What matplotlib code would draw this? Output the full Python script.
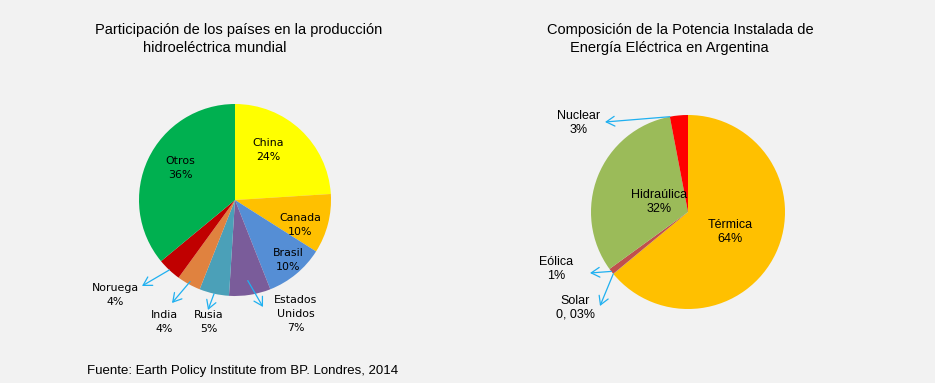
import numpy as np
import matplotlib.pyplot as plt

# -------------------- Data --------------------
paises = ["China", "Canada", "Brasil", "Estados\nUnidos", "Rusia", "India", "Noruega", "Otros"]
part_paises = [24, 10, 10, 7, 5, 4, 4, 36]
col_paises = ["#FFFF00", "#FFC000", "#558ED5", "#7A5C9A", "#4BA0B8", "#E0823F", "#C00000", "#00B050"]

fuentes = ["Térmica", "Solar", "Eólica", "Hidraúlica", "Nuclear"]
part_fuentes = [64, 0.03, 1, 32, 3]
pct_fuentes = ["64%", "0, 03%", "1%", "32%", "3%"]
col_fuentes = ["#FFC000", "#4F81BD", "#C0504D", "#9BBB59", "#FF0000"]

W, H = 935, 383
BG = "#F2F2F2"
ARROW = "#1FB0F0"
LBL = dict(family="DejaVu Sans", fontsize=7.9, color="black")
LBL2 = dict(family="Liberation Sans", fontsize=9, color="black")
TIT = dict(family="Liberation Sans", fontsize=10.5, color="black")

fig = plt.figure(figsize=(W / 100, H / 100), dpi=100, facecolor=BG)
ax = fig.add_axes([0, 0, 1, 1], facecolor=BG)

# -------------------- Pies --------------------
c1, r1 = (235, 183), 96
c2, r2 = (688, 171), 97
w1, _ = ax.pie(part_paises, colors=col_paises, startangle=90, counterclock=False,
               center=c1, radius=r1, frame=True, wedgeprops=dict(linewidth=0))
w2, _ = ax.pie(part_fuentes, colors=col_fuentes, startangle=90, counterclock=False,
               center=c2, radius=r2, frame=True, wedgeprops=dict(linewidth=0))
ax.set_xlim(0, W)
ax.set_ylim(0, H)
ax.set_aspect("equal")
ax.axis("off")


def edge_pt(w, f=1.0, t=0.5):
    a = np.radians(w.theta1 + t * (w.theta2 - w.theta1))
    return (w.center[0] + f * w.r * np.cos(a), w.center[1] + f * w.r * np.sin(a))


def arrow(w, head, f=1.0, t=0.5):
    ax.annotate("", xy=head, xytext=edge_pt(w, f, t),
                arrowprops=dict(arrowstyle="->,head_length=0.6,head_width=0.35",
                                color=ARROW, lw=0.9, mutation_scale=10,
                                shrinkA=0, shrinkB=0))


# left pie labels
inside1 = {0: (268, 233), 1: (300, 158), 2: (288, 123), 7: (180, 215)}
for i, (x, y) in inside1.items():
    ax.text(x, y, f"{paises[i]}\n{part_paises[i]}%", ha="center", va="center",
            linespacing=1.5, **LBL)

outside1 = {6: ((115, 88), (142, 97), 1.0),
            5: ((164, 61), (172, 80), 0.97),
            4: ((209, 61), (208, 73), 1.0),
            3: ((296, 69), (263, 76), 0.85)}
for i, (pos, head, f) in outside1.items():
    ax.text(pos[0], pos[1], f"{paises[i]}\n{part_paises[i]}%", ha="center", va="center",
            linespacing=1.5, **LBL)
    arrow(w1[i], head, f)

# right pie labels
ax.text(730, 151, f"{fuentes[0]}\n{pct_fuentes[0]}", ha="center", va="center",
        linespacing=1.2, **LBL2)
ax.text(659, 181, f"{fuentes[3]}\n{pct_fuentes[3]}", ha="center", va="center",
        linespacing=1.2, **LBL2)

outside2 = {4: ((579, 260), (605, 261), 1.0),
            2: ((556, 114), (590, 110), 0.5),
            1: ((575, 75), (600, 77), 0.5)}
for i, (pos, head, t) in outside2.items():
    ax.text(pos[0], pos[1], f"{fuentes[i]}\n{pct_fuentes[i]}", ha="center", va="center",
            linespacing=1.2, **LBL2)
    arrow(w2[i], head, 1.0, t)

# -------------------- Titles --------------------
ax.text(95, 353, "Participación de los países en la producción", ha="left", va="center", **TIT)
ax.text(143, 335, "hidroeléctrica mundial", ha="left", va="center", **TIT)
ax.text(547, 353, "Composición de la Potencia Instalada de", ha="left", va="center", **TIT)
ax.text(570, 335, "Energía Eléctrica en Argentina", ha="left", va="center", **TIT)
ax.text(87, 12, "Fuente: Earth Policy Institute from BP. Londres, 2014", ha="left",
        va="center", family="Liberation Sans", fontsize=9.5, color="black")

fig.savefig("out.png", dpi=100, facecolor=BG)
